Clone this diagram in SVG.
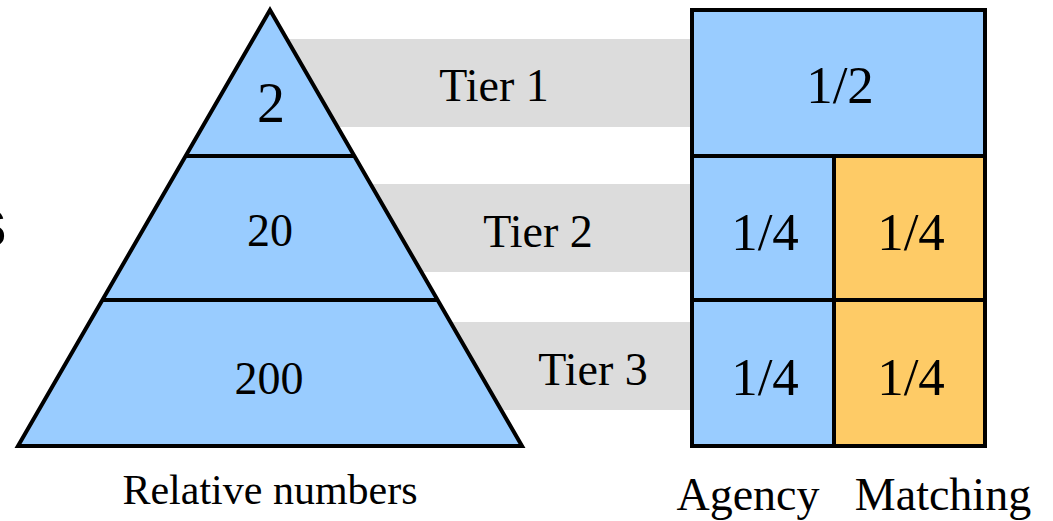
<svg xmlns="http://www.w3.org/2000/svg" width="1053" height="521" viewBox="0 0 1053 521">
<style>
text{font-family:'Liberation Serif','Times New Roman','DejaVu Serif',serif;fill:#000;text-anchor:middle}
.band{fill:#dcdcdc}
.blue{fill:#99ccff}
.orange{fill:#fecb66}
.ln{stroke:#000;stroke-width:4;fill:none}
</style>
<rect width="1053" height="521" fill="#fff"/>
<text x="7" y="247" style="font-family:'Liberation Sans',Arial,sans-serif;font-weight:bold;font-size:72px;text-anchor:end">s</text>
<g id="connectors">
<rect class="band" x="272" y="39" width="418" height="88"/>
<rect class="band" x="272" y="184" width="418" height="88"/>
<rect class="band" x="272" y="322" width="418" height="88"/>
<text x="494" y="101" font-size="46">Tier 1</text>
<text x="538" y="247" font-size="46">Tier 2</text>
<text x="593" y="385" font-size="46">Tier 3</text>
</g>
<g id="pyramid">
<polygon class="blue" points="270,10 522,446 18,446"/>
<line class="ln" x1="186" y1="156" x2="354" y2="156"/>
<line class="ln" x1="102" y1="300" x2="438" y2="300"/>
<polygon class="ln" points="270,10 522,446 18,446"/>
<text x="271" y="122" font-size="56">2</text>
<text x="270" y="246" font-size="46">20</text>
<text x="269" y="394" font-size="46">200</text>
<text x="270" y="504" font-size="42">Relative numbers</text>
</g>
<g id="tier1-cell">
<rect class="blue" x="692" y="10" width="293" height="146"/>
<text x="840" y="103" font-size="53">1/2</text>
</g>
<g id="tier2-agency">
<rect class="blue" x="692" y="156" width="142" height="144"/>
<text x="765" y="250" font-size="53">1/4</text>
</g>
<g id="tier2-matching">
<rect class="orange" x="834" y="156" width="151" height="144"/>
<text x="911" y="250" font-size="53">1/4</text>
</g>
<g id="tier3-agency">
<rect class="blue" x="692" y="300" width="142" height="146"/>
<text x="765" y="395" font-size="53">1/4</text>
</g>
<g id="tier3-matching">
<rect class="orange" x="834" y="300" width="151" height="146"/>
<text x="911" y="395" font-size="53">1/4</text>
</g>
<g id="grid-lines">
<rect class="ln" x="692" y="10" width="293" height="436"/>
<line class="ln" x1="692" y1="156" x2="985" y2="156"/>
<line class="ln" x1="692" y1="300" x2="985" y2="300"/>
<line class="ln" x1="834" y1="156" x2="834" y2="446"/>
</g>
<g id="labels">
<text x="748" y="510" font-size="46">Agency</text>
<text x="943" y="510" font-size="46">Matching</text>
</g>
</svg>
